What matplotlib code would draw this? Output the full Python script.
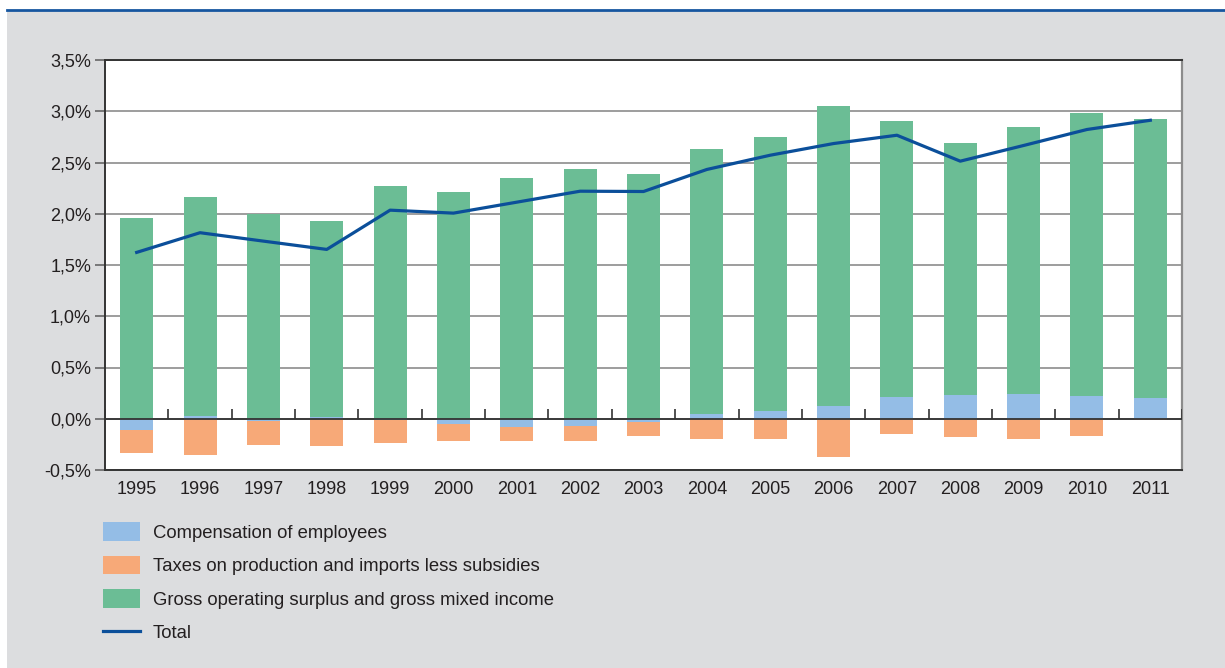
import matplotlib.pyplot as plt
import numpy as np
from matplotlib.patches import Rectangle
from matplotlib.lines import Line2D

plt.rcParams['font.family'] = ['Liberation Sans', 'DejaVu Sans']

# contributions to growth, percentage points
years = ['1995', '1996', '1997', '1998', '1999', '2000', '2001', '2002', '2003',
         '2004', '2005', '2006', '2007', '2008', '2009', '2010', '2011']
compensation = [-0.11, 0.026, -0.02, 0.016, -0.01, -0.052, -0.078, -0.071, -0.032,
                0.045, 0.075, 0.123, 0.211, 0.231, 0.24, 0.221, 0.201]
taxes = [-0.221, -0.351, -0.237, -0.266, -0.224, -0.166, -0.14, -0.146, -0.136,
         -0.198, -0.198, -0.374, -0.149, -0.179, -0.198, -0.169, -0.01]
surplus = [1.954, 2.142, 1.996, 1.909, 2.266, 2.217, 2.344, 2.432, 2.383,
           2.582, 2.678, 2.933, 2.698, 2.464, 2.611, 2.766, 2.726]
total = [1.623, 1.815, 1.733, 1.652, 2.035, 2.006, 2.113, 2.22, 2.217,
         2.432, 2.571, 2.685, 2.766, 2.513, 2.666, 2.822, 2.912]
yticks = [-0.5, 0.0, 0.5, 1.0, 1.5, 2.0, 2.5, 3.0, 3.5]

c_blue = '#94bde6'
c_orange = '#f7a978'
c_green = '#6bbd95'
c_line = '#0b4f9a'
bg = '#dcdddf'
txt = '#231f20'

fig = plt.figure(figsize=(12.25, 6.68), dpi=100, facecolor='white')
fig.add_artist(Rectangle((7/1225, 0), 1, 1 - 10/668, transform=fig.transFigure,
                         facecolor=bg, edgecolor='none', zorder=-10))
fig.add_artist(Line2D([7/1225, 1], [1 - 10/668, 1 - 10/668], transform=fig.transFigure,
                      color='#1656a0', linewidth=2))

ax = fig.add_axes([105/1225, 1 - 470/668, (1182 - 105)/1225, 410/668])
ax.set_facecolor('white')

x = np.arange(len(years))
comp = np.array(compensation)
w = 0.52
b_green = ax.bar(x, surplus, w, bottom=np.maximum(comp, 0), color=c_green, zorder=2)
b_blue = ax.bar(x, comp, w, color=c_blue, zorder=2)
b_orange = ax.bar(x, taxes, w, bottom=np.minimum(comp, 0), color=c_orange, zorder=2)
l_total, = ax.plot(x, total, color=c_line, linewidth=2.3, zorder=4)

ax.set_xlim(-0.5, len(years) - 0.5)
ax.set_ylim(-0.5, 3.5)
ax.set_yticks(yticks)
ax.set_yticklabels([('%.1f%%' % v).replace('.', ',') for v in yticks])
ax.set_xticks(x)
ax.set_xticklabels(years)
ax.tick_params(axis='x', length=0, pad=8, labelsize=13, labelcolor=txt)
ax.tick_params(axis='y', length=7, width=1.2, color='#666666', pad=3,
               labelsize=13, labelcolor=txt)

ax.grid(axis='y', color='#8c8c8c', linewidth=1.2, zorder=1)
ax.set_axisbelow(True)
ax.axhline(0, color='#333333', linewidth=1.3, zorder=3)
# category separators sitting on the zero line
ax.vlines(np.arange(len(years) + 1) - 0.5, 0, 0.1, color='#333333',
          linewidth=1.2, zorder=3)

for side in ['left', 'top', 'bottom']:
    ax.spines[side].set_color('#333333')
    ax.spines[side].set_linewidth(1.4)
ax.spines['right'].set_color('#8c8c8c')
ax.spines['right'].set_linewidth(1.6)

fig.legend([b_blue, b_orange, b_green, l_total],
           ['Compensation of employees',
            'Taxes on production and imports less subsidies',
            'Gross operating surplus and gross mixed income',
            'Total'],
           loc='upper left', bbox_to_anchor=(103/1225, 1 - 522/668),
           frameon=False, fontsize=13.3, handlelength=2.0, handleheight=1.2,
           handletextpad=0.7, labelspacing=0.75, borderpad=0, borderaxespad=0,
           labelcolor=txt)

fig.savefig('out.png', dpi=100, facecolor=fig.get_facecolor())
